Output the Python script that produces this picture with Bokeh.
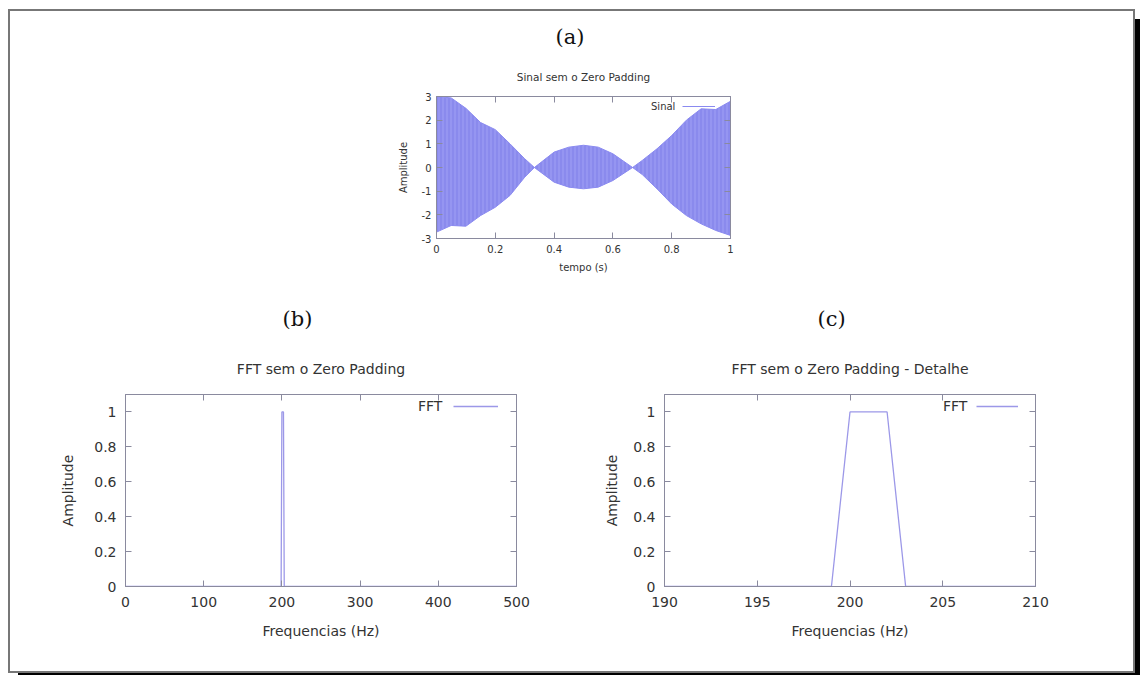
from bokeh.plotting import figure
from bokeh.models import (LinearAxis, Title, Legend, LegendItem, FixedTicker,
                          Range1d, CustomJSTickFormatter)
from bokeh.layouts import column, row
from bokeh.embed import file_html
from bokeh.resources import INLINE

# ---- data ----
# (a) envelope of the dense signal
t_env = [0.0, 0.05, 0.10, 0.15, 0.20, 0.25, 0.30, 0.333, 0.40, 0.45, 0.50,
         0.55, 0.60, 0.667, 0.70, 0.75, 0.80, 0.85, 0.90, 0.95, 1.0]
sig_upper = [3.0, 2.94, 2.5, 1.9, 1.6, 1.0, 0.37, 0.0, 0.65, 0.86, 0.94,
             0.86, 0.58, 0.0, 0.3, 0.79, 1.35, 2.0, 2.48, 2.45, 2.8]
sig_lower = [-2.73, -2.45, -2.48, -2.03, -1.68, -1.18, -0.41, 0.0, -0.62, -0.83, -0.9,
             -0.83, -0.55, 0.0, -0.3, -0.9, -1.54, -2.03, -2.38, -2.66, -2.87]
# (b), (c) FFT magnitude
fft_freq = [0, 199, 200, 201, 202, 203, 500]
fft_amp = [0, 0, 1, 1, 1, 0, 0]

a_xticks = [0, 0.2, 0.4, 0.6, 0.8, 1]
a_yticks = [-3, -2, -1, 0, 1, 2, 3]
b_xticks = [0, 100, 200, 300, 400, 500]
c_xticks = [190, 195, 200, 205, 210]
bc_yticks = [0, 0.2, 0.4, 0.6, 0.8, 1]

FONT = "DejaVu Sans"
SERIF = "DejaVu Serif"
TXT = "#333333"
BORDER = "#8a8a9e"
SIG = "#8a8af0"
FFT_C = "#9c98e8"

fmt = CustomJSTickFormatter(code="return String(Math.round(tick*1000)/1000);")
blank = CustomJSTickFormatter(code="return '';")


def style(p, xt, yt, fs, xlabel, ylabel, lab_stand, ax_stand):
    p.xgrid.visible = False
    p.ygrid.visible = False
    p.outline_line_color = BORDER
    p.outline_line_width = 1
    for ax in (p.xaxis[0], p.yaxis[0]):
        ax.major_tick_in = 6
        ax.major_tick_out = 0
        ax.minor_tick_line_color = None
        ax.major_tick_line_color = BORDER
        ax.axis_line_color = BORDER
        ax.major_label_text_font = FONT
        ax.major_label_text_font_size = fs
        ax.major_label_text_color = TXT
        ax.axis_label_text_font = FONT
        ax.axis_label_text_font_size = fs
        ax.axis_label_text_font_style = "normal"
        ax.axis_label_text_color = TXT
        ax.formatter = fmt
    p.xaxis[0].ticker = FixedTicker(ticks=xt)
    p.yaxis[0].ticker = FixedTicker(ticks=yt)
    p.xaxis[0].axis_label = xlabel
    p.yaxis[0].axis_label = ylabel
    p.xaxis[0].major_label_standoff = lab_stand[0]
    p.yaxis[0].major_label_standoff = lab_stand[1]
    p.xaxis[0].axis_label_standoff = ax_stand[0]
    p.yaxis[0].axis_label_standoff = ax_stand[1]
    # mirrored ticks (gnuplot style)
    for side, tk in (("above", xt), ("right", yt)):
        ax = LinearAxis(ticker=FixedTicker(ticks=tk), formatter=blank,
                        major_label_text_color=None, major_label_text_font_size="1px",
                        major_tick_in=6, major_tick_out=0, minor_tick_line_color=None,
                        major_tick_line_color=BORDER, axis_line_color=BORDER,
                        major_label_standoff=0)
        p.add_layout(ax, side)


def titles(p, title, tfs, tstand, sub, sub_off, sub_stand):
    p.add_layout(Title(text=title, align="center", text_font=FONT, text_font_size=tfs,
                       text_font_style="normal", text_color=TXT, standoff=tstand), "above")
    p.add_layout(Title(text=sub, align="left", offset=sub_off, text_font=SERIF,
                       text_font_size="21px", text_font_style="normal",
                       text_color="#111111", standoff=sub_stand), "above")


def legends(p, label, rend, fs, text_x, line_x, line_w, bottom_y, lh):
    lt = Legend(items=[LegendItem(label=label, renderers=[rend])], location=(text_x, bottom_y),
                glyph_width=0, glyph_height=lh, label_height=lh, label_standoff=0,
                padding=0, margin=0, spacing=0, border_line_alpha=0, background_fill_alpha=0,
                label_text_font=FONT, label_text_font_size=fs, label_text_color=TXT)
    ll = Legend(items=[LegendItem(label=" ", renderers=[rend])], location=(line_x, bottom_y),
                glyph_width=line_w, glyph_height=lh, label_height=lh, label_standoff=0,
                padding=0, margin=0, spacing=0, border_line_alpha=0, background_fill_alpha=0,
                label_text_font=FONT, label_text_font_size=fs, label_text_color=TXT)
    p.add_layout(lt)
    p.add_layout(ll)


# ---- (a) ----
pa = figure(frame_width=294, frame_height=142, min_border_left=426, min_border_right=403,
            min_border_top=85, min_border_bottom=53, x_range=Range1d(0, 1),
            y_range=Range1d(-3, 3), output_backend="svg", toolbar_location=None)
pa.varea(x=t_env, y1=sig_lower, y2=sig_upper, fill_color=SIG, fill_alpha=0.9,
         hatch_pattern="vertical_line", hatch_color="#6060da", hatch_alpha=0.4,
         hatch_scale=4, hatch_weight=1)
la = pa.line(t_env, sig_upper, line_color=SIG, line_width=1)
pa.line(t_env, sig_lower, line_color=SIG, line_width=1)
style(pa, a_xticks, a_yticks, "10px", "tempo (s)", "Amplitude", (6, 5), (6, 10))
titles(pa, "Sinal sem o Zero Padding", "10.5px", 27, "(a)", 119, 14)
legends(pa, "Sinal", la, "10px", 215, 246, 33, 125, 14)

# ---- (b) ----
pb = figure(frame_width=391, frame_height=192, min_border_left=115, min_border_right=79,
            min_border_top=103, min_border_bottom=85, x_range=Range1d(0, 500),
            y_range=Range1d(0, 1.1), output_backend="svg", toolbar_location=None)
lb = pb.line(fft_freq, fft_amp, line_color=FFT_C, line_width=1.3)
style(pb, b_xticks, bc_yticks, "14px", "Frequencias (Hz)", "Amplitude", (10, 9), (13, 15))
titles(pb, "FFT sem o Zero Padding", "14px", 36, "(b)", 157, 20)
legends(pb, "FFT", lb, "14px", 293, 328, 45, 172, 16)

# ---- (c) ----
pc = figure(frame_width=371, frame_height=192, min_border_left=69, min_border_right=98,
            min_border_top=103, min_border_bottom=85, x_range=Range1d(190, 210),
            y_range=Range1d(0, 1.1), output_backend="svg", toolbar_location=None)
lc = pc.line(fft_freq, fft_amp, line_color=FFT_C, line_width=1.3)
style(pc, c_xticks, bc_yticks, "14px", "Frequencias (Hz)", "Amplitude", (10, 9), (13, 10))
titles(pc, "FFT sem o Zero Padding - Detalhe", "14px", 36, "(c)", 153, 20)
legends(pc, "FFT", lc, "14px", 279, 312, 42, 172, 16)

layout = column(pa, row(pb, pc), margin=(9, 0, 0, 8),
                styles={"border": "2px solid #777777", "box-shadow": "10px 10px 0 0 #000000",
                        "background": "#ffffff"})

open("out.html", "w").write(file_html(layout, INLINE))
